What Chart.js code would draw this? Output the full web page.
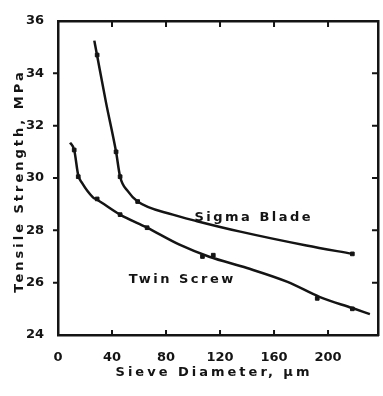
<!DOCTYPE html>
<html>
  <head>
    <title>Tensile Strength vs Sieve Diameter</title>
    <script src="https://cdn.jsdelivr.net/npm/chart.js"></script>
    <style>
      body {
        margin: 0;
        background: #fff;
      }
    </style>
  </head>
  <body>
    <canvas id="myChart" width="383" height="396"></canvas>
    <script>
      // Measured points (markers) for each mixer
      const sigmaX = [29, 43, 46, 59, 218];
      const sigmaY = [34.7, 31.0, 30.05, 29.1, 27.1];
      const twinX = [12, 15, 29, 46, 66, 107, 115, 192, 218];
      const twinY = [31.07, 30.05, 29.2, 28.6, 28.1, 27.0, 27.05, 25.4, 25.0];

      // Points along each fitted curve
      const sigmaCurveX = [26.9, 28.9, 35.5, 43, 46, 52, 59, 85, 103, 135, 184, 218];
      const sigmaCurveY = [35.25, 34.7, 32.9, 31.0, 30.05, 29.48, 29.1, 28.6, 28.35, 27.95, 27.42, 27.1];
      const twinCurveX = [9, 12, 15, 17.8, 25.9, 29, 46, 66, 90, 112, 140, 170, 194, 218, 231];
      const twinCurveY = [31.35, 31.07, 30.1, 29.81, 29.26, 29.17, 28.6, 28.1, 27.45, 26.99, 26.56, 26.03, 25.45, 25.03, 24.8];

      const yTicks = [24, 26, 28, 30, 32, 34, 36];
      const xTicks = [0, 40, 80, 120, 160, 200];
      const xMax = 237;

      const ink = "#141414";
      const tickFont = { family: "DejaVu Sans", size: 13, weight: "bold" };

      const toPoints = (xs, ys) => xs.map((x, i) => ({ x: x, y: ys[i] }));

      // Tick marks on the box, axis titles and curve names
      const captions = {
        id: "captions",
        afterDraw(chart) {
          const ctx = chart.ctx;
          const sx = chart.scales.x;
          const sy = chart.scales.y;
          const L = sx.left, R = sx.right;
          const T = sy.top, B = sy.bottom;

          ctx.save();
          ctx.strokeStyle = ink;
          ctx.lineWidth = 2;
          ctx.beginPath();
          xTicks.slice(1).forEach((v) => {
            const px = sx.getPixelForValue(v);
            ctx.moveTo(px, T);
            ctx.lineTo(px, T + 6);
            ctx.moveTo(px, B);
            ctx.lineTo(px, B - 5);
          });
          yTicks.slice(1, -1).forEach((v) => {
            const py = sy.getPixelForValue(v);
            ctx.moveTo(L, py);
            ctx.lineTo(L - 5, py);
            ctx.moveTo(R, py);
            ctx.lineTo(R - 6, py);
          });
          ctx.stroke();
          ctx.restore();

          ctx.save();
          ctx.fillStyle = ink;
          ctx.font = "bold 13px 'DejaVu Sans'";
          ctx.textAlign = "center";
          ctx.textBaseline = "middle";
          ctx.letterSpacing = "2.5px";
          ctx.fillText("Sigma Blade", sx.getPixelForValue(145), sy.getPixelForValue(28.47));
          ctx.fillText("Twin Screw", sx.getPixelForValue(92), sy.getPixelForValue(26.1));

          ctx.letterSpacing = "3px";
          ctx.fillText("Sieve Diameter, μm", 214, 373);
          ctx.translate(20, 181);
          ctx.rotate(-Math.PI / 2);
          ctx.fillText("Tensile Strength, MPa", 0, 0);
          ctx.letterSpacing = "0px";
          ctx.restore();
        },
      };

      const line = {
        showLine: true,
        borderColor: ink,
        borderWidth: 2.5,
        pointRadius: 0,
        cubicInterpolationMode: "monotone",
      };
      const marks = {
        showLine: false,
        pointRadius: 2.6,
        pointStyle: "rect",
        backgroundColor: ink,
        borderColor: ink,
        borderWidth: 1,
      };

      // Each side of the box is an axis line
      const edge = { display: true, color: ink, width: 2.5 };
      const setTicks = (list) => (s) => {
        s.ticks = list.map((v) => ({ value: v }));
      };

      const ctx = document.getElementById("myChart").getContext("2d");
      new Chart(ctx, {
        type: "scatter",
        data: {
          datasets: [
            Object.assign({ data: toPoints(sigmaCurveX, sigmaCurveY) }, line),
            Object.assign({ data: toPoints(twinCurveX, twinCurveY) }, line),
            Object.assign({ data: toPoints(sigmaX, sigmaY) }, marks),
            Object.assign({ data: toPoints(twinX, twinY) }, marks),
          ],
        },
        options: {
          responsive: false,
          animation: false,
          layout: { padding: { top: 21, right: 5, left: 0, bottom: 0 } },
          plugins: {
            legend: { display: false },
            tooltip: { enabled: false },
          },
          scales: {
            x: {
              type: "linear",
              position: "bottom",
              min: 0,
              max: xMax,
              afterBuildTicks: setTicks(xTicks),
              afterFit: (s) => {
                s.height = 61;
              },
              grid: { display: false },
              border: edge,
              ticks: { padding: 7, color: ink, font: tickFont, maxRotation: 0 },
            },
            x2: {
              type: "linear",
              position: "top",
              min: 0,
              max: xMax,
              afterFit: (s) => {
                s.height = 0;
              },
              grid: { display: false },
              border: edge,
              ticks: { display: false },
            },
            y: {
              type: "linear",
              position: "left",
              min: 24,
              max: 36,
              afterBuildTicks: setTicks(yTicks),
              afterFit: (s) => {
                s.width = 58;
              },
              grid: { display: false },
              border: edge,
              ticks: { padding: 6, color: ink, font: tickFont },
            },
            y2: {
              type: "linear",
              position: "right",
              min: 24,
              max: 36,
              afterFit: (s) => {
                s.width = 0;
              },
              grid: { display: false },
              border: edge,
              ticks: { display: false },
            },
          },
        },
        plugins: [captions],
      });
    </script>
  </body>
</html>
